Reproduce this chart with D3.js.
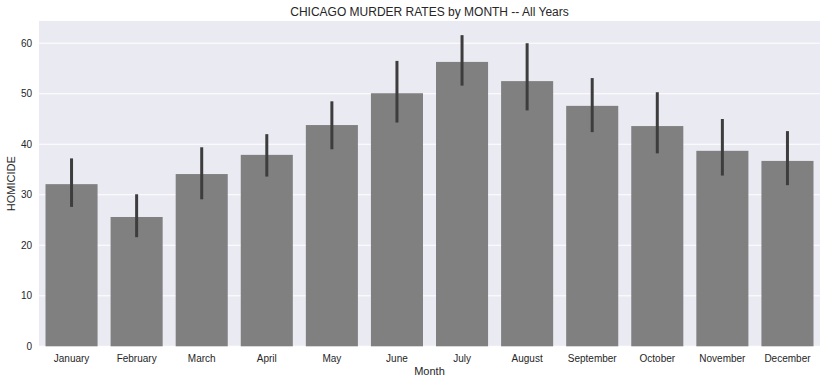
<!DOCTYPE html>
<html lang="en">
<head>
<meta charset="UTF-8">
<title>Chicago murder rates by month</title>
<style>
  body { margin: 0; background: #fff; }
  text { font-family: "Liberation Sans", Arial, sans-serif; }
</style>
</head>
<body>
<script src="https://d3js.org/d3.v7.min.js"></script>
<script>
  // data
  var months = ["January", "February", "March", "April", "May", "June",
                "July", "August", "September", "October", "November", "December"];
  var homicide = [32.1, 25.6, 34.1, 37.9, 43.8, 50.1, 56.3, 52.5, 47.6, 43.6, 38.7, 36.7];
  var ciLow    = [27.6, 21.6, 29.1, 33.6, 39.0, 44.3, 51.6, 46.7, 42.4, 38.2, 33.8, 31.9];
  var ciHigh   = [37.2, 30.1, 39.4, 42.0, 48.5, 56.5, 61.6, 60.0, 53.1, 50.3, 45.0, 42.6];
  var yTicks = [0, 10, 20, 30, 40, 50, 60];

  var width = 827, height = 384;
  // plot area (note: "top" is a reserved window global, so use other names)
  var plotLeft = 39, plotRight = 820, plotTop = 21, plotBottom = 346.3;

  var svg = d3.select("body").append("svg")
    .attr("width", width).attr("height", height);

  var x = d3.scaleBand().domain(months).range([plotLeft, plotRight]).paddingInner(0.2).paddingOuter(0.1);
  var y = d3.scaleLinear().domain([0, 64.4]).range([plotBottom, plotTop]);

  // background
  svg.append("rect")
    .attr("x", plotLeft).attr("y", plotTop)
    .attr("width", plotRight - plotLeft).attr("height", plotBottom - plotTop)
    .attr("fill", "#eaeaf2");

  // grid
  svg.append("g").selectAll("line").data(yTicks).enter().append("line")
    .attr("x1", plotLeft).attr("x2", plotRight)
    .attr("y1", function (d) { return y(d); })
    .attr("y2", function (d) { return y(d); })
    .attr("stroke", "#fff").attr("stroke-width", 1);

  // bars
  svg.append("g").selectAll("rect").data(months).enter().append("rect")
    .attr("x", function (d) { return x(d); })
    .attr("width", x.bandwidth())
    .attr("y", function (d, i) { return y(homicide[i]); })
    .attr("height", function (d, i) { return y(0) - y(homicide[i]); })
    .attr("fill", "#808080");

  // error bars
  svg.append("g").selectAll("line").data(months).enter().append("line")
    .attr("x1", function (d) { return x(d) + x.bandwidth() / 2; })
    .attr("x2", function (d) { return x(d) + x.bandwidth() / 2; })
    .attr("y1", function (d, i) { return y(ciLow[i]); })
    .attr("y2", function (d, i) { return y(ciHigh[i]); })
    .attr("stroke", "#3d3d3d").attr("stroke-width", 3);

  // axes
  var xAxis = svg.append("g")
    .attr("transform", "translate(0," + plotBottom + ")")
    .call(d3.axisBottom(x).tickSize(0).tickPadding(9));
  xAxis.select(".domain").remove();
  xAxis.selectAll("text").attr("font-size", 10).attr("fill", "#262626")
    .style("font-family", "'Liberation Sans', Arial, sans-serif");

  var yAxis = svg.append("g")
    .attr("transform", "translate(" + plotLeft + ",0)")
    .call(d3.axisLeft(y).tickValues(yTicks).tickSize(0).tickPadding(7));
  yAxis.select(".domain").remove();
  yAxis.selectAll("text").attr("font-size", 10).attr("fill", "#262626")
    .style("font-family", "'Liberation Sans', Arial, sans-serif");

  // labels
  svg.append("text")
    .attr("x", (plotLeft + plotRight) / 2).attr("y", 16)
    .attr("text-anchor", "middle").attr("font-size", 12).attr("fill", "#262626")
    .text("CHICAGO MURDER RATES by MONTH -- All Years");

  svg.append("text")
    .attr("x", (plotLeft + plotRight) / 2).attr("y", 375)
    .attr("text-anchor", "middle").attr("font-size", 11).attr("fill", "#262626")
    .text("Month");

  svg.append("text")
    .attr("transform", "translate(15," + (plotTop + plotBottom) / 2 + ") rotate(-90)")
    .attr("text-anchor", "middle").attr("font-size", 11).attr("fill", "#262626")
    .text("HOMICIDE");
</script>
</body>
</html>
